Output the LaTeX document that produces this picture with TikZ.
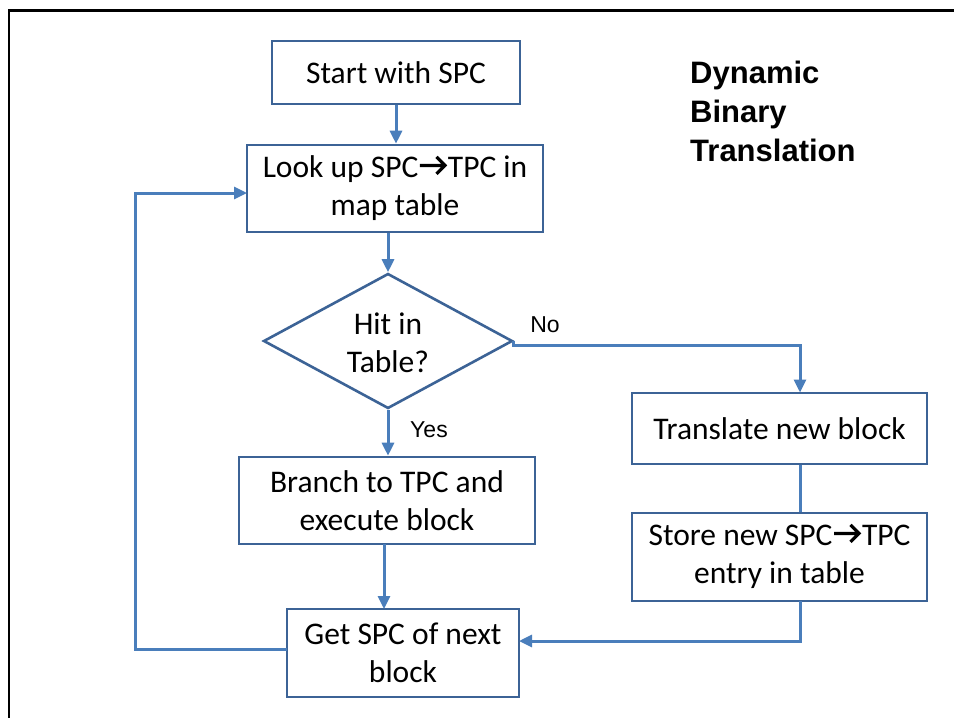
\documentclass[tikz,border=0pt]{standalone}
\usepackage{fontspec}
\setmainfont{Carlito}
\newfontfamily\arialfont{Liberation Sans}
\usetikzlibrary{arrows.meta,shapes.geometric}

\definecolor{boxblue}{HTML}{3C6396}
\definecolor{lineblue}{HTML}{4A7EBB}

\newsavebox{\maparrowbox}
% heavy chevron arrow used inside the box texts
\newcommand{\maparrow}{\usebox{\maparrowbox}}

\begin{document}
\savebox{\maparrowbox}{\begin{pgfpicture}%
  \pgfsetbaseline{0pt}%
  \pgfpathrectangle{\pgfpoint{-1.5pt}{0pt}}{\pgfpoint{29.5pt}{21pt}}%
  \pgfusepath{use as bounding box}%
  \pgfsetlinewidth{3.2pt}\pgfsetbuttcap\pgfsetmiterjoin
  \pgfpathmoveto{\pgfpoint{0pt}{12.5pt}}\pgfpathlineto{\pgfpoint{25pt}{12.5pt}}%
  \pgfpathmoveto{\pgfpoint{16.5pt}{21pt}}\pgfpathlineto{\pgfpoint{25pt}{12.5pt}}%
  \pgfpathlineto{\pgfpoint{16.5pt}{4pt}}%
  \pgfusepath{stroke}%
\end{pgfpicture}}%
\begin{tikzpicture}[x=1pt,y=-1pt,
  box/.style={draw=boxblue, line width=2.6pt, fill=white, align=center,
    inner sep=0pt, font=\fontsize{31.5}{38}\selectfont},
  decision/.style={diamond, draw=boxblue, line width=2.6pt, fill=white,
    inner sep=0pt},
  conn/.style={draw=lineblue, line width=3pt},
  arrow/.style={conn, -{Triangle[length=13pt,width=12pt]}},
  tag/.style={font=\arialfont\fontsize{23}{27}\selectfont, inner sep=0pt},
  title/.style={font=\arialfont\bfseries\fontsize{31}{39}\selectfont,
    align=left, inner sep=0pt, anchor=north west}]

  % canvas and outer frame
  \useasboundingbox (0,0) rectangle (954,718);
  \fill[white] (0,0) rectangle (954,718);
  \draw[black, line width=2.7pt] (9,730) -- (9,10.5) -- (970,10.5);

  % flowchart blocks
  \node[box, minimum width=248, minimum height=63] (start) at (396,72.5) {Start with SPC};
  \node[box, minimum width=296, minimum height=87] (lookup) at (395,188.5) {Look up SPC\maparrow TPC in\\map table};
  \node[decision, minimum width=249, minimum height=135] (hit) at (388,341) {};
  \node[align=center, inner sep=0pt, font=\fontsize{31.5}{38}\selectfont] (hittext) at (388,343) {Hit in\\Table?};
  \node[box, minimum width=296, minimum height=87] (branch) at (387,500.5) {Branch to TPC and\\execute block};
  \node[box, minimum width=295, minimum height=71] (translate) at (779.5,428.5) {Translate new block};
  \node[box, minimum width=295, minimum height=88] (store) at (779.5,557) {Store new SPC\maparrow TPC\\entry in table};
  \node[box, minimum width=232, minimum height=88] (get) at (403,653) {Get SPC of next\\block};

  % title
  \node[title] (title) at (690,61) {Dynamic\\Binary\\Translation};

  % branch labels
  \node[tag] (no) at (545,325) {No};
  \node[tag] (yes) at (429,430) {Yes};

  % connector anchor points
  \coordinate (tin) at (800,392.5);
  \coordinate (sout) at (800,601);
  \coordinate (gin) at (519,641);
  \coordinate (gout) at (287,649);
  \coordinate (bout) at (384,544);
  \coordinate (gtop) at (384,609);
  \coordinate (lin) at (247,193);

  % connectors
  \draw[arrow] (start.south) -- (start.south |- lookup.north);
  \draw[arrow] (hit.north |- lookup.south) -- (hit.north);
  \draw[arrow] (hit.south) -- (hit.south |- branch.north);
  \draw[arrow] (hit.east) -- ++(0,4) -| (tin);
  \draw[conn] (tin |- translate.south) -- (tin |- store.north);
  \draw[arrow] (sout) |- (gin);
  \draw[arrow] (bout) -- (gtop);
  \draw[arrow] (gout) -- (135,649) |- (lin);
\end{tikzpicture}
\end{document}
